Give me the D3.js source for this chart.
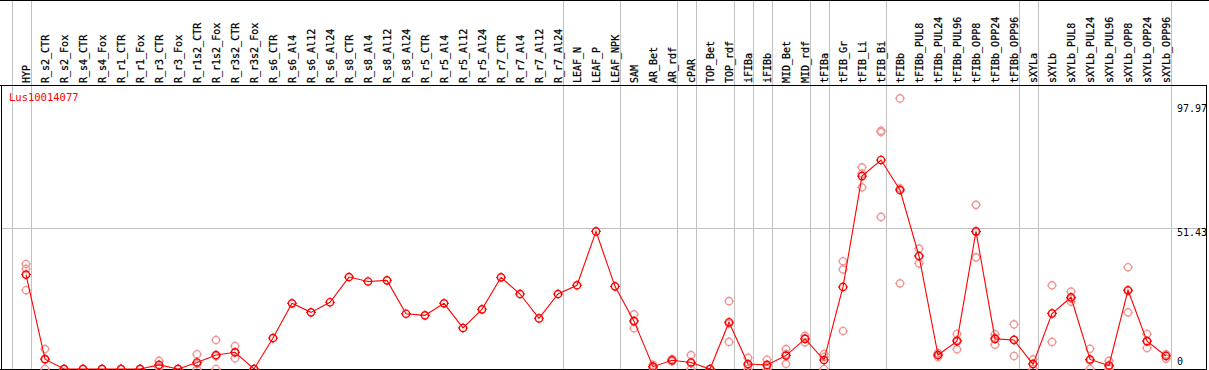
<!DOCTYPE html>
<html><head><meta charset="utf-8">
<script src="https://cdn.jsdelivr.net/npm/d3@7"></script>
<style>body{margin:0;background:#fff}svg{display:block}</style>
</head><body>
<svg id="c" width="1209" height="370"></svg>
<script>
const categories = ["HYP","R_s2_CTR","R_s2_Fox","R_s4_CTR","R_s4_Fox","R_r1_CTR","R_r1_Fox","R_r3_CTR","R_r3_Fox","R_r1s2_CTR","R_r1s2_Fox","R_r3s2_CTR","R_r3s2_Fox","R_s6_CTR","R_s6_Al4","R_s6_Al12","R_s6_Al24","R_s8_CTR","R_s8_Al4","R_s8_Al12","R_s8_Al24","R_r5_CTR","R_r5_Al4","R_r5_Al12","R_r5_Al24","R_r7_CTR","R_r7_Al4","R_r7_Al12","R_r7_Al24","LEAF_N","LEAF_P","LEAF_NPK","SAM","AR_Bet","AR_rdf","cPAR","TOP_Bet","TOP_rdf","iFIBa","iFIBb","MID_Bet","MID_rdf","tFIBa","tFIB_Gr","tFIB_Li","tFIB_Bi","tFIBb","tFIBb_PUL8","tFIBb_PUL24","tFIBb_PUL96","tFIBb_OPP8","tFIBb_OPP24","tFIBb_OPP96","sXYLa","sXYLb","sXYLb_PUL8","sXYLb_PUL24","sXYLb_PUL96","sXYLb_OPP8","sXYLb_OPP24","sXYLb_OPP96"];
const meanValues = [34.5,3.6,0,0,0,0,0,1.5,0,2.4,5.1,6.1,0,11.3,24.0,20.7,24.4,33.6,32.0,32.4,20.2,19.6,24.0,15.0,21.8,33.5,27.4,18.5,27.4,30.6,50.3,30.2,17.5,0.85,3.2,2.4,0,17.1,1.8,1.5,4.9,11.0,3.3,30.0,70.5,76.4,65.4,41.3,5.1,10.2,50.3,11.0,10.6,1.8,20.3,26.2,3.5,1.3,28.8,10.2,4.75];
const rep1 = [38.4,7.3,0,0,0,0,0,3.0,0,5.4,10.6,8.4,0,null,null,null,null,null,null,null,null,null,null,null,null,null,null,null,null,null,null,null,20.0,1.5,3.6,5.1,0,24.8,4.1,3.4,7.3,12.1,5.5,39.4,73.7,87.1,98.9,44.0,5.8,12.8,60.0,12.7,16.3,3.5,30.6,28.3,7.4,3.0,37.2,12.8,5.4];
const rep2 = [36.6,3.6,0,0,0,0,0,0.8,0,1.8,4.7,6.0,0,null,null,null,null,null,null,null,null,null,null,null,null,null,null,null,null,null,null,null,17.6,0.7,3.2,2.1,0,16.6,1.3,1.1,5.5,11.2,4.4,36.4,71.4,86.6,66.0,41.3,5.1,10.6,50.1,11.4,10.8,1.9,20.4,25.7,3.1,0.9,28.5,10.1,5.1];
const rep3 = [28.8,0,0,0,0,0,0,0.6,0,0,0,3.9,0,null,null,null,null,null,null,null,null,null,null,null,null,null,null,null,null,null,null,null,14.9,0.35,2.8,0,0,9.9,0,0,1.9,9.7,0,13.9,66.4,55.6,31.3,38.6,4.4,7.2,40.8,8.9,4.75,0,9.9,24.6,0,0,20.7,7.7,3.8];
const groupEnds = [-1,0,28,31,34,35,37,38,39,41,42,45,52,53,60];
const yTickLabels = ["0","51.43","97.97"];
const yTickValues = [0,51.43,97.97];
const geneName = "Lus10014077";

const svg = d3.select("#c");
const W = 1209, H = 370;
const headerY = 85.5, bottomY = 369.5, leftX = 1.5, rightX = 1206.5;

const x = d3.scalePoint().domain(categories).range([26, 1166]).padding(0);
const step = x.step();
const y = d3.scaleLinear().domain([0, 97.97]).range([369, 369 - 97.97 * 2.736]);

const crisp = svg.append("g").attr("shape-rendering", "crispEdges");

// group separators
crisp.selectAll("line.sep").data(groupEnds).join("line")
  .attr("x1", d => Math.round(26 + d * step + 4.5) + 0.5)
  .attr("x2", d => Math.round(26 + d * step + 4.5) + 0.5)
  .attr("y1", 0).attr("y2", bottomY)
  .attr("stroke", "#c0c0c0").attr("stroke-width", 1);

// grid line at middle tick
crisp.append("line")
  .attr("x1", leftX).attr("x2", rightX)
  .attr("y1", Math.round(y(yTickValues[1])) + 0.5).attr("y2", Math.round(y(yTickValues[1])) + 0.5)
  .attr("stroke", "#c0c0c0");

// frame
crisp.append("line").attr("x1", 0).attr("x2", W).attr("y1", 0.5).attr("y2", 0.5).attr("stroke", "#000");
crisp.append("line").attr("x1", 0).attr("x2", rightX).attr("y1", headerY).attr("y2", headerY).attr("stroke", "#000");
crisp.append("line").attr("x1", 0).attr("x2", rightX).attr("y1", bottomY).attr("y2", bottomY).attr("stroke", "#000").attr("stroke-width", 2);
crisp.append("line").attr("x1", leftX).attr("x2", leftX).attr("y1", headerY).attr("y2", bottomY).attr("stroke", "#000");
crisp.append("line").attr("x1", rightX).attr("x2", rightX).attr("y1", headerY).attr("y2", bottomY + 1).attr("stroke", "#000");

// header labels
svg.append("g").selectAll("text").data(categories).join("text")
  .attr("transform", d => `translate(${x(d) + 3.5},83) rotate(-90)`)
  .attr("text-anchor", "start")
  .style("font-family", "'DejaVu Sans Mono', monospace")
  .style("font-size", "10px")
  .attr("fill", "#000")
  .attr("stroke", "#000").attr("stroke-width", 0.25)
  .text(d => d);

// gene name
svg.append("text").attr("x", 9).attr("y", 101)
  .style("font-family", "'DejaVu Sans Mono', monospace").style("font-size", "10.5px")
  .attr("fill", "#ff0000").text(geneName);

// y tick labels (left-aligned near right border)
svg.append("g").selectAll("text").data(yTickValues).join("text")
  .attr("x", 1177).attr("text-anchor", "start")
  .attr("y", (d, i) => i === 0 ? y(d) - 4 : (i === yTickValues.length - 1 ? y(d) + 11 : y(d) + 7.5))
  .style("font-family", "'DejaVu Sans Mono', monospace").style("font-size", "10px")
  .attr("fill", "#000")
  .text((d, i) => yTickLabels[i]);

function marker(g, cx, cy, color) {
  const m = g.append("g").attr("transform", `translate(${cx},${cy})`);
  m.append("circle").attr("r", 3.6).attr("fill", "none").attr("stroke", color).attr("stroke-width", 1.4);
  [[0,-1],[0,1],[-1,0],[1,0]].forEach(([dx,dy]) => {
    m.append("line").attr("x1", dx*3.6).attr("y1", dy*3.6).attr("x2", dx*5.0).attr("y2", dy*5.0)
      .attr("stroke", color).attr("stroke-width", 1.0);
  });
}

// replicates
const repG = svg.append("g");
[rep1, rep2, rep3].forEach(arr => {
  arr.forEach((v, i) => {
    if (v === null) return;
    marker(repG, x(categories[i]), y(v), "#f09696");
  });
});

// mean line
const line = d3.line().x((d, i) => x(categories[i])).y(d => y(d));
svg.append("path").datum(meanValues).attr("d", line)
  .attr("fill", "none").attr("stroke", "#ff0000").attr("stroke-width", 1.1);

// mean markers
const mG = svg.append("g");
meanValues.forEach((v, i) => marker(mG, x(categories[i]), y(v), "#ff0000"));
</script>
</body></html>
